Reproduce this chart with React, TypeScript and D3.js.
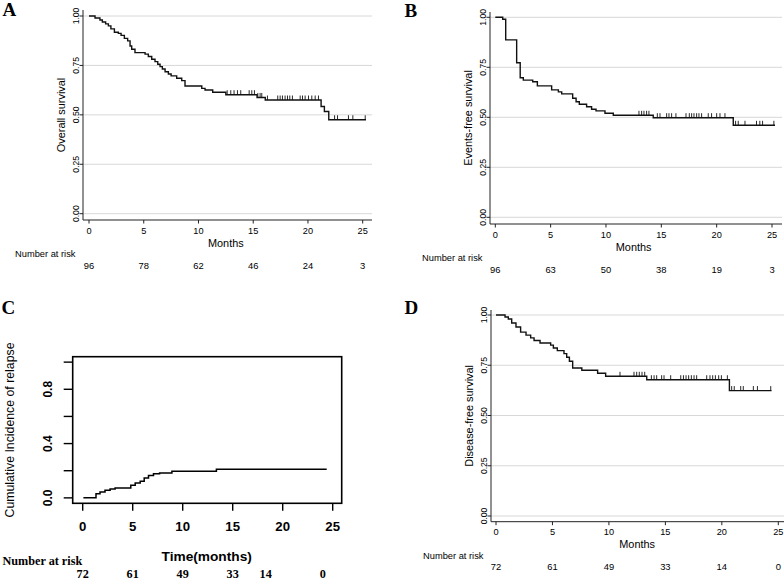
import React from "react";
import * as d3 from "d3";

// ---------- DATA ----------
const xTicks = [0, 5, 10, 15, 20, 25];
const survTicks = [0, 0.25, 0.5, 0.75, 1];

// Panel A: overall survival
const aTimes = [0, 0.55, 1.0, 1.22, 1.52, 1.77, 2.0, 2.32, 2.68, 2.93, 3.23, 3.53, 3.75, 3.9, 4.2, 5.12, 5.42, 5.73, 6.03, 6.28, 6.49, 6.7, 6.95, 7.25, 7.5, 8.01, 8.47, 8.77, 10.3, 10.6, 11.3, 12.5, 15.35, 16.1, 21.2, 21.5, 21.9];
const aSurv = [1, 0.99, 0.98, 0.97, 0.96, 0.95, 0.935, 0.918, 0.912, 0.902, 0.887, 0.874, 0.848, 0.832, 0.815, 0.807, 0.795, 0.781, 0.769, 0.756, 0.744, 0.732, 0.718, 0.707, 0.697, 0.685, 0.673, 0.646, 0.634, 0.626, 0.614, 0.602, 0.588, 0.575, 0.542, 0.517, 0.475];
const aEnd = 25.3;
const aCensor = [12.62, 12.95, 13.25, 13.56, 13.86, 14.63, 14.87, 15.11, 15.42, 15.63, 15.78, 16.3, 17.24, 17.46, 17.67, 17.91, 18.13, 18.34, 18.58, 19.29, 19.5, 19.74, 20.05, 20.35, 20.66, 20.96, 22.43, 22.7, 23.7, 24.1, 25.23];
const aRisk = [96, 78, 62, 46, 24, 3];

// Panel B: events-free survival
const bTimes = [0, 0.67, 0.94, 1.93, 2.25, 2.53, 3.38, 3.8, 5.09, 5.7, 6.0, 6.99, 7.3, 7.59, 8.25, 8.7, 9.1, 9.91, 10.66, 14.27, 21.5];
const bSurv = [1, 0.99, 0.887, 0.773, 0.698, 0.686, 0.678, 0.657, 0.637, 0.627, 0.617, 0.595, 0.578, 0.565, 0.553, 0.54, 0.532, 0.52, 0.51, 0.498, 0.46];
const bEnd = 25.27;
const bCensor = [12.98, 13.22, 13.43, 13.67, 13.88, 14.64, 14.88, 15.48, 15.69, 15.93, 16.32, 17.23, 17.53, 17.74, 17.95, 18.19, 18.4, 18.64, 19.24, 19.54, 20.0, 20.3, 20.75, 21.71, 21.95, 22.56, 23.6, 23.9, 24.15, 25.17];
const bRisk = [96, 63, 50, 38, 19, 3];

// Panel C: cumulative incidence of relapse
const cTimes = [0.07, 1.33, 1.73, 2.23, 2.74, 3.24, 4.81, 5.25, 5.75, 6.15, 6.58, 7.08, 7.69, 8.92, 13.37];
const cInc = [0, 0.03, 0.044, 0.056, 0.066, 0.073, 0.093, 0.11, 0.122, 0.147, 0.165, 0.177, 0.184, 0.196, 0.211];
const cEnd = 24.4;
const cYTicks = [0, 0.2, 0.4, 0.6, 0.8, 1.0];
const cYLabels = ["0.0", "", "0.4", "", "0.8", ""];
const cRisk = [72, 61, 49, 33, 14, 0];
const cRiskTimes = [0, 5, 10, 15, 18.3, 24];

// Panel D: disease-free survival
const dTimes = [0, 0.8, 1.09, 1.39, 1.77, 2.18, 2.66, 3.07, 3.37, 3.9, 4.84, 5.08, 5.43, 6.02, 6.26, 6.5, 6.79, 7.6, 9.0, 9.71, 13.35, 20.67];
const dSurv = [1, 0.99, 0.98, 0.96, 0.94, 0.915, 0.9, 0.886, 0.873, 0.861, 0.85, 0.836, 0.823, 0.808, 0.79, 0.77, 0.736, 0.725, 0.71, 0.695, 0.678, 0.624];
const dEnd = 24.4;
const dCensor = [10.98, 12.22, 12.46, 12.69, 12.93, 13.17, 13.76, 14.0, 14.23, 14.67, 14.88, 15.47, 16.36, 16.6, 16.83, 17.06, 17.3, 17.54, 17.77, 18.66, 18.95, 19.19, 19.43, 19.72, 19.96, 20.49, 20.87, 21.1, 21.67, 21.9, 22.79, 23.15, 24.33];
const dRisk = [72, 61, 49, 33, 14, 0];

// ---------- STYLE ----------
const SANS = "'Liberation Sans', Arial, Helvetica, sans-serif";
const SERIF = "'Liberation Serif', 'Times New Roman', serif";

type Layout = {
  left: number; right: number; top: number; bottom: number;
  x0: number; x25: number; y1: number; y0: number;
};

function KMPanel(props: {
  L: Layout; times: number[]; surv: number[]; end: number; censor: number[];
  risk: number[]; yTitle: string; letter: string; letterX: number; letterY: number;
}) {
  const { L, times, surv, end, censor, risk, yTitle, letter, letterX, letterY } = props;
  const x = d3.scaleLinear().domain([0, 25]).range([L.x0, L.x25]);
  const y = d3.scaleLinear().domain([0, 1]).range([L.y0, L.y1]);
  const pts: [number, number][] = times.map((t, i) => [t, surv[i]]);
  pts.push([end, surv[surv.length - 1]]);
  const line = d3.line<[number, number]>().x(d => x(d[0])).y(d => y(d[1])).curve(d3.curveStepAfter);
  const fmt = d3.format(".2f");
  const levelAt = (t: number) => surv[Math.max(0, d3.bisectRight(times, t) - 1)];
  const midX = x(12.5);
  return (
    <g>
      <text x={letterX} y={letterY} fontFamily={SERIF} fontWeight="bold" fontSize={19}>{letter}</text>
      {survTicks.map(v => (
        <line key={"g" + v} x1={L.left} x2={L.right} y1={y(v)} y2={y(v)} stroke="#d8d8d8" strokeWidth={1} />
      ))}
      <line x1={L.left} x2={L.left} y1={L.top} y2={L.bottom} stroke="#222" strokeWidth={1} />
      <line x1={L.left} x2={L.right} y1={L.bottom} y2={L.bottom} stroke="#222" strokeWidth={1} />
      {survTicks.map(v => (
        <g key={"yt" + v}>
          <line x1={L.left - 3.5} x2={L.left} y1={y(v)} y2={y(v)} stroke="#222" strokeWidth={1} />
          <text transform={`translate(${L.left - 4.5},${y(v)}) rotate(-90)`} textAnchor="middle"
            fontFamily={SANS} fontSize={8.6}>{fmt(v)}</text>
        </g>
      ))}
      {xTicks.map((v, i) => (
        <g key={"xt" + v}>
          <line x1={x(v)} x2={x(v)} y1={L.bottom} y2={L.bottom + 3.5} stroke="#222" strokeWidth={1} />
          <text x={x(v)} y={L.bottom + 13.5} textAnchor="middle" fontFamily={SANS} fontSize={9.2}>{v}</text>
          <text x={x(v)} y={L.bottom + 48.5} textAnchor="middle" fontFamily={SANS} fontSize={9.4}>{risk[i]}</text>
        </g>
      ))}
      <text x={midX} y={L.bottom + 26.7} textAnchor="middle" fontFamily={SANS} fontSize={10.9}>Months</text>
      <text x={L.left - 68} y={L.bottom + 36.8} fontFamily={SANS} fontSize={9.3}>Number at risk</text>
      <text transform={`translate(${L.left - 18.5},${(L.top + L.bottom) / 2}) rotate(-90)`} textAnchor="middle"
        fontFamily={SANS} fontSize={10.9}>{yTitle}</text>
      <path d={line(pts) || ""} fill="none" stroke="#111" strokeWidth={1.4} />
      {censor.map((c, i) => (
        <line key={"c" + i} x1={x(c)} x2={x(c)} y1={y(levelAt(c))} y2={y(levelAt(c)) - 4.5} stroke="#111" strokeWidth={0.9} />
      ))}
    </g>
  );
}

function CIPanel() {
  const box = { left: 72.7, right: 341.7, top: 356.7, bottom: 503.3 };
  const x = d3.scaleLinear().domain([-1.0, 25.9]).range([box.left, box.right]);
  const y = d3.scaleLinear().domain([-0.04, 1.04]).range([box.bottom, box.top]);
  const pts: [number, number][] = cTimes.map((t, i) => [t, cInc[i]]);
  pts.push([cEnd, cInc[cInc.length - 1]]);
  const line = d3.line<[number, number]>().x(d => x(d[0])).y(d => y(d[1])).curve(d3.curveStepAfter);
  return (
    <g>
      <text x={1.5} y={313.5} fontFamily={SERIF} fontWeight="bold" fontSize={19}>C</text>
      <rect x={box.left} y={box.top} width={box.right - box.left} height={box.bottom - box.top}
        fill="none" stroke="#000" strokeWidth={1.6} />
      {cYTicks.map((v, i) => (
        <g key={"cy" + v}>
          <line x1={box.left - 9} x2={box.left} y1={y(v)} y2={y(v)} stroke="#000" strokeWidth={1.4} />
          {cYLabels[i] && (
            <text transform={`translate(${51.7},${y(v)}) rotate(-90)`} textAnchor="middle"
              fontFamily={SANS} fontWeight="bold" fontSize={12}>{cYLabels[i]}</text>
          )}
        </g>
      ))}
      {xTicks.map(v => (
        <g key={"cx" + v}>
          <line x1={x(v)} x2={x(v)} y1={box.bottom} y2={box.bottom + 7.5} stroke="#000" strokeWidth={1.4} />
          <text x={x(v)} y={531.3} textAnchor="middle" fontFamily={SANS} fontWeight="bold" fontSize={13.2}>{v}</text>
        </g>
      ))}
      <text transform={`translate(14,430) rotate(-90)`} textAnchor="middle" fontFamily={SANS} fontSize={12.3}>
        Cumulative Incidence of relapse
      </text>
      <text x={206.7} y={561} textAnchor="middle" fontFamily={SANS} fontWeight="bold" fontSize={13.7}>Time(months)</text>
      <text x={2.5} y={565} fontFamily={SERIF} fontWeight="bold" fontSize={12.2}>Number at risk</text>
      {cRisk.map((r, i) => (
        <text key={"cr" + i} x={x(cRiskTimes[i])} y={578.3} textAnchor="middle" fontFamily={SERIF}
          fontWeight="bold" fontSize={12.2}>{r}</text>
      ))}
      <path d={line(pts) || ""} fill="none" stroke="#000" strokeWidth={1.5} />
    </g>
  );
}

const layoutA: Layout = { left: 83, right: 372, top: 10, bottom: 220, x0: 89, x25: 362.7, y1: 16, y0: 213.7 };
const layoutB: Layout = { left: 490, right: 782, top: 12, bottom: 224, x0: 495.3, x25: 772, y1: 17.3, y0: 217.3 };
const layoutD: Layout = { left: 491, right: 784, top: 310, bottom: 521.7, x0: 496, x25: 778.3, y1: 315, y0: 516 };

export default function App() {
  return (
    <svg width={784} height={581} style={{ position: "absolute", left: 0, top: 0, background: "#fff" }}>
      <rect x={0} y={0} width={784} height={581} fill="#fff" />
      <KMPanel L={layoutA} times={aTimes} surv={aSurv} end={aEnd} censor={aCensor} risk={aRisk}
        yTitle="Overall survival" letter="A" letterX={2.5} letterY={15.5} />
      <KMPanel L={layoutB} times={bTimes} surv={bSurv} end={bEnd} censor={bCensor} risk={bRisk}
        yTitle="Events-free survival" letter="B" letterX={404.5} letterY={17} />
      <CIPanel />
      <KMPanel L={layoutD} times={dTimes} surv={dSurv} end={dEnd} censor={dCensor} risk={dRisk}
        yTitle="Disease-free survival" letter="D" letterX={404.5} letterY={313.5} />
    </svg>
  );
}
